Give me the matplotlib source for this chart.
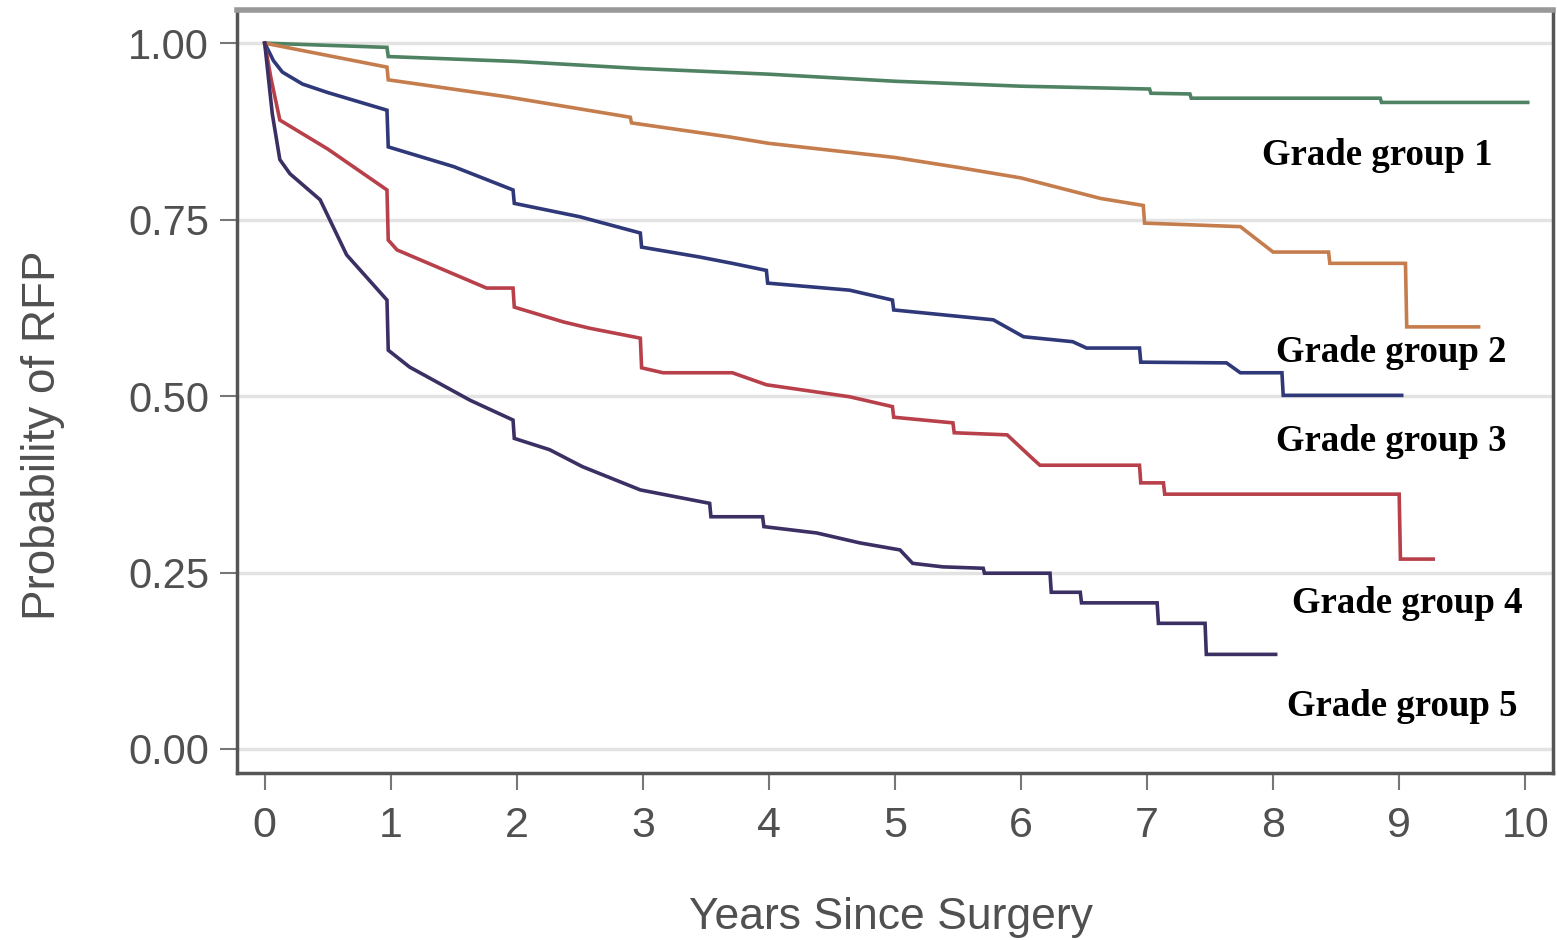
import matplotlib.pyplot as plt

# Kaplan-Meier style curves (years, probability of RFP)
gg1_t = [0, 0.97, 0.98, 2.0, 2.98, 4.0, 5.0, 6.0, 7.02, 7.03, 7.34, 7.35, 8.85, 8.86, 10.02]
gg1_s = [1.0, 0.994, 0.981, 0.974, 0.964, 0.956, 0.946, 0.939, 0.935, 0.929, 0.928, 0.922, 0.922, 0.916, 0.916]

gg2_t = [0, 0.97, 0.98, 1.92, 2.9, 2.91, 3.69, 4.0, 4.5, 5.0, 5.5, 6.0, 6.63, 6.97, 6.98,
         7.74, 8.0, 8.44, 8.45, 9.05, 9.06, 9.63]
gg2_s = [1.0, 0.966, 0.948, 0.924, 0.895, 0.887, 0.867, 0.858, 0.848, 0.838, 0.824, 0.809, 0.78, 0.77, 0.745,
         0.74, 0.704, 0.704, 0.688, 0.688, 0.598, 0.598]

gg3_t = [0, 0.07, 0.14, 0.3, 0.5, 0.97, 0.98, 1.5, 1.97, 1.98, 2.5, 2.98, 2.99, 3.45, 3.71, 3.98, 3.99, 4.64,
         4.98, 4.99, 5.78, 6.02, 6.41, 6.52, 6.94, 6.95, 7.63, 7.74, 8.07, 8.08, 9.02]
gg3_s = [1.0, 0.975, 0.959, 0.942, 0.93, 0.905, 0.853, 0.825, 0.792, 0.773, 0.754, 0.731, 0.711, 0.697, 0.688, 0.678, 0.66, 0.65,
         0.636, 0.622, 0.608, 0.584, 0.577, 0.568, 0.568, 0.548, 0.547, 0.533, 0.533, 0.501, 0.501]

gg4_t = [0, 0.05, 0.12, 0.5, 0.97, 0.98, 1.05, 1.76, 1.97, 1.98, 2.37, 2.58, 2.98, 2.99, 3.16, 3.71, 3.98,
         4.64, 4.98, 4.99, 5.46, 5.47, 5.89, 6.1, 6.15, 6.94, 6.95, 7.13, 7.14, 9.0, 9.01, 9.27]
gg4_s = [1.0, 0.95, 0.891, 0.85, 0.792, 0.721, 0.707, 0.653, 0.653, 0.626, 0.605, 0.596, 0.582, 0.54, 0.533, 0.533, 0.516,
         0.499, 0.485, 0.47, 0.462, 0.448, 0.445, 0.41, 0.402, 0.402, 0.377, 0.377, 0.361, 0.361, 0.269, 0.269]

gg5_t = [0, 0.06, 0.12, 0.2, 0.44, 0.65, 0.8, 0.97, 0.98, 1.15, 1.63, 1.97, 1.98, 2.26, 2.52, 2.98, 3.53, 3.54,
         3.95, 3.96, 4.38, 4.72, 5.04, 5.14, 5.38, 5.7, 5.71, 6.23, 6.24, 6.47, 6.48, 7.08, 7.09, 7.46, 7.47, 8.02]
gg5_s = [1.0, 0.9, 0.835, 0.815, 0.778, 0.70, 0.67, 0.636, 0.565, 0.541, 0.494, 0.466, 0.44, 0.424, 0.40, 0.367, 0.348, 0.329,
         0.329, 0.315, 0.306, 0.292, 0.282, 0.263, 0.258, 0.256, 0.249, 0.249, 0.222, 0.222, 0.207, 0.207, 0.178, 0.178, 0.134, 0.134]

labels = ['Grade group 1', 'Grade group 2', 'Grade group 3', 'Grade group 4', 'Grade group 5']
label_x = [7.91, 8.02, 8.02, 8.15, 8.11]
label_y = [0.841, 0.561, 0.435, 0.206, 0.060]

x_ticks = list(range(0, 11))
y_ticks = [0.0, 0.25, 0.5, 0.75, 1.0]
y_ticklabels = ['0.00', '0.25', '0.50', '0.75', '1.00']

colors = ['#4f8263', '#c57d4e', '#2f3878', '#b8404a', '#3b2f63']

fig = plt.figure(figsize=(15.57, 9.4), dpi=100)
ax = fig.add_axes([0.1522, 0.1777, 0.8452, 0.8117])

for y in y_ticks:
    ax.axhline(y, color='#e3e3e3', lw=2.5, zorder=0)

series = [(gg1_t, gg1_s), (gg2_t, gg2_s), (gg3_t, gg3_s), (gg4_t, gg4_s), (gg5_t, gg5_s)]
for (t, s), c in zip(series, colors):
    ax.plot(t, s, color=c, lw=2.6, solid_joinstyle='miter')

for lab, lx, ly in zip(labels, label_x, label_y):
    ax.text(lx, ly, lab, ha='left', va='center', fontsize=26.5, fontweight='bold',
            family='Liberation Serif', color='black')

ax.set_xlim(-0.22, 10.22)
ax.set_ylim(-0.034, 1.047)
ax.set_xticks(x_ticks)
ax.set_yticks(y_ticks)
ax.set_yticklabels(y_ticklabels)
ax.tick_params(axis='both', direction='out', length=12, width=1.5, color='#777777',
               labelcolor='#505050', labelsize=30, pad=8)
ax.tick_params(axis='x', labelsize=31, pad=12)
for lab in ax.get_xticklabels() + ax.get_yticklabels():
    lab.set_family('Liberation Sans')

for side in ['left', 'bottom', 'right']:
    ax.spines[side].set_color('#555555')
    ax.spines[side].set_linewidth(2.5)
ax.spines['top'].set_color('#999999')
ax.spines['top'].set_linewidth(4)

ax.set_xlabel('Years Since Surgery', fontsize=32, color='#505050', family='Liberation Sans')
ax.xaxis.set_label_coords(0.497, -0.1625)
ax.set_ylabel('Probability of RFP', fontsize=33, color='#505050', family='Liberation Sans')
ax.yaxis.set_label_coords(-0.131, 0.443)

fig.savefig('out.png', dpi=100, facecolor='white')
